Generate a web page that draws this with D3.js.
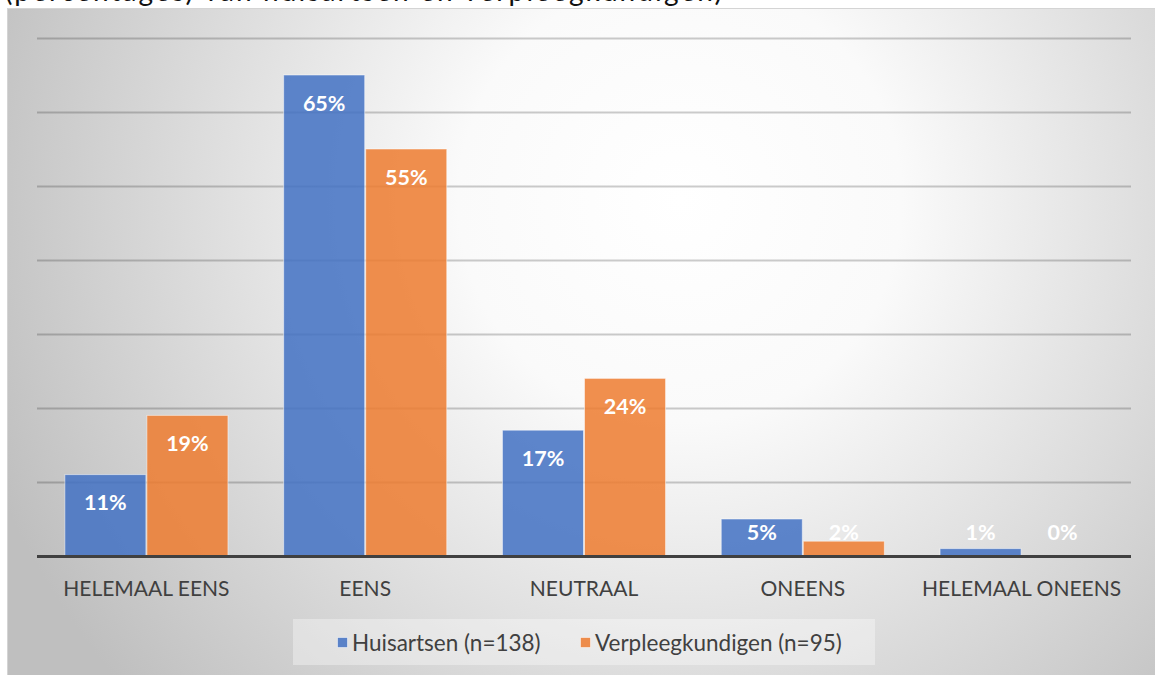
<!DOCTYPE html>
<html>
<head>
<meta charset="utf-8">
<script src="https://cdn.jsdelivr.net/npm/d3@7/dist/d3.min.js"></script>
<style>
  html, body { margin: 0; padding: 0; background: #ffffff; }
  svg { display: block; }
</style>
</head>
<body>
<svg id="chart" width="1155" height="675"></svg>
<script>
// Answer categories and the share (%) of respondents per group
const categories = ["HELEMAAL EENS", "EENS", "NEUTRAAL", "ONEENS", "HELEMAAL ONEENS"];
const seriesNames = ["Huisartsen (n=138)", "Verpleegkundigen (n=95)"];
const huisartsen = [11, 65, 17, 5, 1];
const verpleegkundigen = [19, 55, 24, 2, 0];
const yTicks = [0, 10, 20, 30, 40, 50, 60, 70];
const captionText = "(percentages) van huisartsen en verpleegkundigen)";

const seriesValues = [huisartsen, verpleegkundigen];
const colors = ["#4472C4", "#ED7D31"];

const svg = d3.select("#chart");
const W = 1155, H = 675;

// Caption line of the surrounding document, partly hidden above the chart
svg.append("text")
  .attr("x", 5).attr("y", 1)
  .attr("textLength", 717).attr("lengthAdjust", "spacing")
  .style("font-family", "Lato, 'Open Sans', sans-serif")
  .style("font-size", "28px")
  .attr("fill", "#111")
  .text(captionText);

// Chart area with radial grey-to-white gradient
const defs = svg.append("defs");
const grad = defs.append("radialGradient")
  .attr("id", "bg")
  .attr("gradientUnits", "userSpaceOnUse")
  .attr("cx", 680).attr("cy", 200).attr("r", 740);
grad.append("stop").attr("offset", "0").attr("stop-color", "#ffffff");
grad.append("stop").attr("offset", "0.3").attr("stop-color", "#fafafa");
grad.append("stop").attr("offset", "1").attr("stop-color", "#bfbfbf");

svg.append("rect")
  .attr("x", 7.5).attr("y", 8.5).attr("width", W).attr("height", H)
  .attr("fill", "url(#bg)")
  .attr("stroke", "#d4d4d4").attr("stroke-width", 1);

// Scales
const plotLeft = 37, plotRight = 1131, plotTop = 38, plotBottom = 556;
const x = d3.scaleBand().domain(categories).range([plotLeft, plotRight])
  .paddingInner(0.25).paddingOuter(0.125);
const xs = d3.scaleBand().domain(d3.range(seriesNames.length)).range([0, x.bandwidth()]).padding(0);
const y = d3.scaleLinear().domain([0, 70]).range([plotBottom, plotTop]);

// Horizontal gridlines
const yAxis = d3.axisLeft(y).tickValues(yTicks.slice(1)).tickSize(-(plotRight - plotLeft)).tickFormat("");
const gy = svg.append("g").attr("transform", `translate(${plotLeft},0)`).call(yAxis);
gy.select(".domain").remove();
gy.selectAll(".tick line").attr("stroke", "#000").attr("stroke-opacity", 0.2).attr("stroke-width", 2);

// Bars
const rows = [];
categories.forEach((c, i) => seriesValues.forEach((vals, s) => rows.push({ c, s, v: vals[i] })));

svg.append("g").selectAll("rect").data(rows).join("rect")
  .attr("x", d => x(d.c) + xs(d.s) + 0.5)
  .attr("y", d => y(d.v))
  .attr("width", xs.bandwidth() - 1)
  .attr("height", d => y(0) - y(d.v))
  .attr("fill", d => colors[d.s])
  .attr("fill-opacity", 0.86)
  .attr("stroke", "#ffffff").attr("stroke-opacity", 0.5).attr("stroke-width", 1);

// Category axis (baseline + labels)
const xAxis = d3.axisBottom(x).tickSize(0).tickPadding(0);
const gx = svg.append("g").attr("transform", `translate(0,${plotBottom})`).call(xAxis);
gx.select(".domain").remove();
gx.selectAll(".tick text")
  .attr("y", 33).attr("dy", "0.35em")
  .style("font-family", "Lato, 'Open Sans', sans-serif")
  .style("font-size", "21px")
  .attr("fill", "#404040");

svg.append("line")
  .attr("x1", plotLeft).attr("x2", plotRight)
  .attr("y1", y(0) + 0.5).attr("y2", y(0) + 0.5)
  .attr("stroke", "#404040").attr("stroke-width", 3);

// Value labels inside bar ends
svg.append("g").selectAll("text").data(rows).join("text")
  .attr("x", d => x(d.c) + xs(d.s) + xs.bandwidth() / 2)
  .attr("y", d => Math.min(y(d.v) + 28, y(0) - 24))
  .attr("dy", "0.36em")
  .attr("text-anchor", "middle")
  .style("font-family", "Lato, 'Open Sans', sans-serif")
  .style("font-size", "21.5px")
  .style("font-weight", "bold")
  .attr("fill", "#ffffff")
  .text(d => d.v + "%");

// Legend
const legend = svg.append("g");
legend.append("rect")
  .attr("x", 293).attr("y", 619).attr("width", 582).attr("height", 46)
  .attr("fill", "#ffffff").attr("fill-opacity", 0.35);
const legendX = [337, 580];
seriesNames.forEach((name, s) => {
  legend.append("rect")
    .attr("x", legendX[s] + 0.5).attr("y", 637.5).attr("width", 10).attr("height", 10)
    .attr("fill", colors[s]).attr("fill-opacity", 0.86)
    .attr("stroke", "#ffffff").attr("stroke-opacity", 0.5);
  legend.append("text")
    .attr("x", legendX[s] + 15).attr("y", 643).attr("dy", "0.35em")
    .style("font-family", "Lato, 'Open Sans', sans-serif")
    .style("font-size", "22.5px")
    .attr("fill", "#404040")
    .text(name);
});
</script>
</body>
</html>
